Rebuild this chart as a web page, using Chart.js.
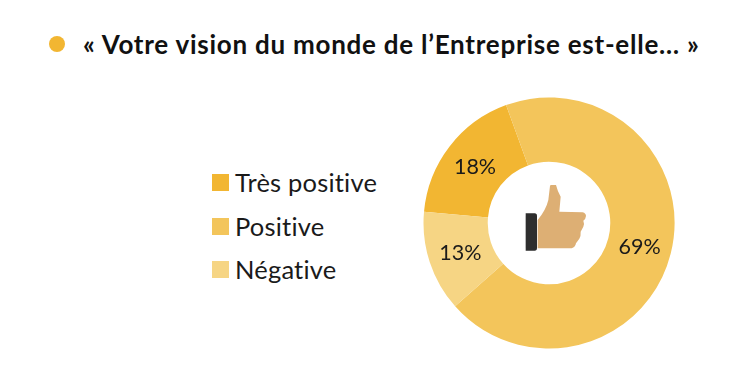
<!DOCTYPE html>
<html lang="fr">
<head>
<meta charset="utf-8">
<title>Votre vision du monde de l'Entreprise</title>
<script src="https://cdn.jsdelivr.net/npm/chart.js@4"></script>
<style>
    html, body { margin: 0; padding: 0; background: #fff; }
    body { position: relative; width: 754px; height: 372px; overflow: hidden; font-family: Lato, sans-serif; color: #1a1a1a; font-variant-ligatures: none; }
    #bullet { position: absolute; left: 49px; top: 36px; width: 16px; height: 16px; border-radius: 50%; background: #F2B632; }
    #title { position: absolute; left: 83px; top: 28px; font-size: 26px; line-height: 32px; font-weight: 700; letter-spacing: 0.75px; white-space: nowrap; color: #111; }
    #chartWrap { position: absolute; left: 422px; top: 96px; width: 254px; height: 254px; }
    #legend { position: absolute; left: 212px; top: 161px; }
    .legendItem { position: relative; height: 43.5px; font-size: 25.5px; line-height: 43.5px; letter-spacing: 0.2px; white-space: nowrap; padding-left: 23px; }
    .legendBox { position: absolute; left: 0; top: 13px; width: 17px; height: 17px; }
    #thumb { position: absolute; left: 500px; top: 170px; width: 100px; height: 90px; }
</style>
</head>
<body>
<div id="bullet"></div>
<div id="title">« Votre vision du monde de l’Entreprise est-elle… »</div>
<div id="legend"></div>
<div id="chartWrap"><canvas id="visionChart" width="254" height="254"></canvas></div>
<svg id="thumb" viewBox="0 0 300 270">
    <path d="M77 130 H104 Q111 130 111 138 V234 Q111 242 104 242 H77 Z" fill="#2E2E2E"/>
    <path d="M113 150 Q138 120 145 90 L150 48 Q150 45 154 45 L168 45 Q172 62 182 80 L178 125 L248 127 Q258 130 258 138 Q257 148 250 152 Q254 162 250 170 L242 185 Q243 198 238 206 L228 220 Q226 232 215 235 L113 235 Z" fill="#DDAF74"/>
</svg>
<script>
const labels = ['Très positive', 'Positive', 'Négative'];
const values = [18, 69, 13];
const colors = ['#F2B632', '#F3C55B', '#F6D584'];

// HTML legend, same order as the data
const legend = document.getElementById('legend');
labels.forEach((label, i) => {
    const item = document.createElement('div');
    item.className = 'legendItem';
    const box = document.createElement('span');
    box.className = 'legendBox';
    box.style.background = colors[i];
    item.appendChild(box);
    item.appendChild(document.createTextNode(label));
    legend.appendChild(item);
});

// Draw the percentages in the middle of each ring segment
const sliceLabels = {
    id: 'sliceLabels',
    afterDatasetsDraw(chart) {
        const ctx = chart.ctx;
        ctx.save();
        ctx.font = '21.5px Lato, sans-serif';
        ctx.fillStyle = '#1a1a1a';
        ctx.textAlign = 'center';
        ctx.textBaseline = 'middle';
        chart.getDatasetMeta(0).data.forEach((arc, i) => {
            const pos = arc.tooltipPosition();
            ctx.fillText(values[i] + '%', pos.x, pos.y + 1);
        });
        ctx.restore();
    }
};

new Chart(document.getElementById('visionChart').getContext('2d'), {
    type: 'doughnut',
    data: {
        labels: labels,
        datasets: [{
            data: values,
            backgroundColor: colors,
            borderWidth: 0
        }]
    },
    options: {
        responsive: false,
        animation: false,
        rotation: -84.8,
        radius: 125.5,
        cutout: 62,
        plugins: {
            legend: { display: false },
            tooltip: { enabled: false }
        }
    },
    plugins: [sliceLabels]
});
</script>
</body>
</html>
